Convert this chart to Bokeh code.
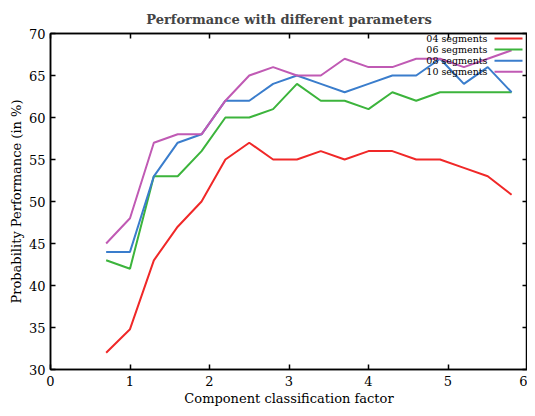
from bokeh.plotting import figure
from bokeh.models import LinearAxis, Range1d, FixedTicker, Label, Arrow
from bokeh.embed import file_html
from bokeh.resources import INLINE

x_vals = [0.7, 1.0, 1.3, 1.6, 1.9, 2.2, 2.5, 2.8, 3.1, 3.4, 3.7, 4.0, 4.3, 4.6, 4.9, 5.2, 5.5, 5.8]
seg04 = [32, 34.8, 43, 47, 50, 55, 57, 55, 55, 56, 55, 56, 56, 55, 55, 54, 53, 50.8]
seg06 = [43, 42, 53, 53, 56, 60, 60, 61, 64, 62, 62, 61, 63, 62, 63, 63, 63, 63]
seg08 = [44, 44, 53, 57, 58, 62, 62, 64, 65, 64, 63, 64, 65, 65, 67, 64, 66, 63]
seg10 = [45, 48, 57, 58, 58, 62, 65, 66, 65, 65, 67, 66, 66, 67, 67, 66, 67, 68]
series_names = ["04 segments", "06 segments", "08 segments", "10 segments"]
colors = ["#f02828", "#3cb43c", "#3a7dcc", "#c05ab4"]
x_ticks = [0, 1, 2, 3, 4, 5, 6]
y_ticks = [30, 35, 40, 45, 50, 55, 60, 65, 70]

SERIF = "DejaVu Serif"
W, H = 527, 408
BL, BR, BT, BB = 50, 0, 33, 37

p = figure(width=W, height=H, output_backend="svg", toolbar_location=None,
           x_range=Range1d(0, 6), y_range=Range1d(30, 70),
           x_axis_location=None, y_axis_location=None,
           min_border_left=BL, min_border_right=BR, min_border_top=BT, min_border_bottom=BB)
p.grid.visible = False
p.outline_line_color = "black"
p.outline_line_width = 1.5
p.background_fill_color = "white"
p.border_fill_color = "white"

p.title.text = "Performance with different parameters"
p.title.text_font = SERIF
p.title.text_font_style = "bold"
p.title.text_font_size = "13px"
p.title.align = "center"
p.title.standoff = 14

def mk_axis(ticks, show_labels, label=None, label_standoff=3, tick_standoff=5):
    ax = LinearAxis(ticker=FixedTicker(ticks=ticks))
    ax.major_tick_in = 5
    ax.major_tick_out = 0
    ax.minor_tick_in = 0
    ax.minor_tick_out = 0
    ax.axis_line_color = "black"
    ax.axis_line_width = 1.5
    ax.major_tick_line_color = "black"
    ax.major_tick_line_width = 1.5
    if show_labels:
        ax.major_label_text_font = SERIF
        ax.major_label_text_font_size = "13px"
        ax.major_label_text_color = "black"
        ax.major_label_standoff = tick_standoff
    else:
        ax.major_label_text_font_size = "0px"
        ax.major_label_standoff = 0
        ax.major_label_text_alpha = 0
    if label:
        ax.axis_label = label
        ax.axis_label_text_font = SERIF
        ax.axis_label_text_font_size = "13px"
        ax.axis_label_text_font_style = "normal"
        ax.axis_label_text_color = "black"
        ax.axis_label_standoff = label_standoff
    return ax

p.add_layout(mk_axis(x_ticks, True, "Component classification factor", 2, 6), "below")
p.add_layout(mk_axis(y_ticks, True, "Probability Performance (in %)", 2, 5), "left")
p.add_layout(mk_axis(x_ticks, False), "above")
p.add_layout(mk_axis(y_ticks, False), "right")

all_series = [seg04, seg06, seg08, seg10]
for ys, c in zip(all_series, colors):
    p.line(x_vals, ys, line_color=c, line_width=2)

# gnuplot-style key: text on the left, line sample on the right (frame-relative pixels)
frame_h = H - BT - BB
for i, (name, c) in enumerate(zip(series_names, colors)):
    yy = frame_h - 7 - i * 11.1
    p.add_layout(Label(x=437, y=yy, x_units="screen", y_units="screen", text=name,
                       text_font=SERIF, text_font_size="9.5px", text_align="right",
                       text_baseline="middle", text_color="black"))
    p.add_layout(Arrow(start=None, end=None, x_start=444, y_start=yy, x_end=472, y_end=yy,
                       start_units="screen", end_units="screen", line_color=c, line_width=2))

open("out.html", "w").write(file_html(p, INLINE))
